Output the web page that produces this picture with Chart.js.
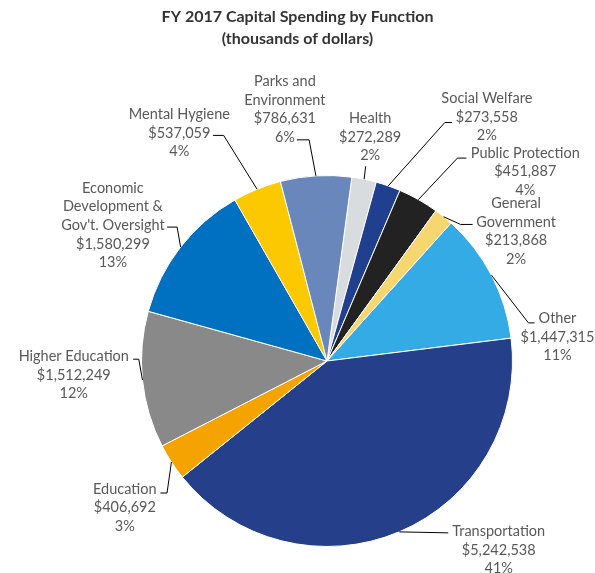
<!DOCTYPE html>
<html>
<head>
<meta charset="utf-8">
<script src="https://cdn.jsdelivr.net/npm/chart.js@4"></script>
<style>
    html, body { margin: 0; padding: 0; background: #fff; }
    #wrap { position: relative; width: 595px; height: 573px; }
</style>
</head>
<body>
<div id="wrap"><canvas id="chart"></canvas></div>
<script>
const titleLines = ["FY 2017 Capital Spending by Function", "(thousands of dollars)"];

const categories = [
    ["Health"],
    ["Social Welfare"],
    ["Public Protection"],
    ["General", "Government"],
    ["Other"],
    ["Transportation"],
    ["Education"],
    ["Higher Education"],
    ["Economic", "Development &", "Gov't. Oversight"],
    ["Mental Hygiene"],
    ["Parks and", "Environment"],
];
const spending = [272289, 273558, 451887, 213868, 1447315, 5242538, 406692, 1512249, 1580299, 537059, 786631];
const percentLabels = ["2%", "2%", "4%", "2%", "11%", "41%", "3%", "12%", "13%", "4%", "6%"];

const sliceColors = [
    "#d8dcdf", "#203f8f", "#222222", "#f6d66f", "#35abe6", "#263f8a",
    "#f5a300", "#898989", "#0070c0", "#fcc800", "#6a87bb",
];

// leader line bends and text block, offsets from the slice's outer mid point
const labelLayout = [
    { line: [[1.5, -13]], text: [6, -61] },
    { line: [[56.6, -63.4], [63.6, -63.4]], text: [98.6, -87.4] },
    { line: [[39, -41.5], [48, -41.5]], text: [106.8, -46.5] },
    { line: [[17, 7.7], [29, 7.7]], text: [72.5, -13.3] },
    { line: [[37, 47.7], [43, 47.7]], text: [66, 43.3] },
    { line: [[49, 1]], text: [99.5, -0.6] },
    { line: [[-4.4, 31], [-11, 31]], text: [-46.6, 26.9] },
    { line: [[-3.7, -20.7], [-9.3, -20.7]], text: [-68.7, -23.3] },
    { line: [[-3.5, -20], [-13.5, -20]], text: [-67.7, -59] },
    { line: [[-33.4, -53.8], [-44, -53.8]], text: [-77.7, -74.8] },
    { line: [[-6.8, -36], [-19.1, -36]], text: [-31, -94.6] },
];

const LINE_GAP = 18.6;

const sliceLabels = {
    id: "sliceLabels",
    afterDatasetsDraw(chart) {
        const ctx = chart.ctx;
        const arcs = chart.getDatasetMeta(0).data;

        ctx.save();
        arcs.forEach((arc, i) => {
            const { x, y, startAngle, endAngle, outerRadius } = arc.getProps(
                ["x", "y", "startAngle", "endAngle", "outerRadius"], true);
            const mid = (startAngle + endAngle) / 2;
            const rx = x + Math.cos(mid) * outerRadius;
            const ry = y + Math.sin(mid) * outerRadius;
            const layout = labelLayout[i];

            ctx.beginPath();
            ctx.moveTo(rx, ry);
            layout.line.forEach(([dx, dy]) => ctx.lineTo(rx + dx, ry + dy));
            ctx.strokeStyle = "#000";
            ctx.lineWidth = 1;
            ctx.stroke();

            const lines = [
                ...categories[i],
                "$" + spending[i].toLocaleString("en-US"),
                percentLabels[i],
            ];
            ctx.fillStyle = "#595959";
            ctx.font = "14.5px Lato";
            ctx.textAlign = "center";
            ctx.textBaseline = "middle";
            lines.forEach((t, k) => {
                ctx.fillText(t, rx + layout.text[0], ry + layout.text[1] + k * LINE_GAP);
            });
        });

        // title, centred on the whole canvas
        ctx.fillStyle = "#333333";
        ctx.font = "bold 16px Lato";
        titleLines.forEach((t, k) => {
            ctx.fillText(t, chart.width / 2, 17 + k * 22);
        });
        ctx.restore();
    },
};

new Chart(document.getElementById("chart"), {
    type: "pie",
    data: {
        labels: categories,
        datasets: [{
            data: spending,
            backgroundColor: sliceColors,
            borderColor: "#ffffff",
            borderWidth: 1,
        }],
    },
    options: {
        responsive: true,
        maintainAspectRatio: false,
        animation: false,
        rotation: 7.7,
        layout: {
            padding: { left: 141, right: 82, top: 175, bottom: 26 },
        },
        plugins: {
            legend: { display: false },
            tooltip: { enabled: false },
            title: { display: false },
        },
    },
    plugins: [sliceLabels],
});
</script>
</body>
</html>
